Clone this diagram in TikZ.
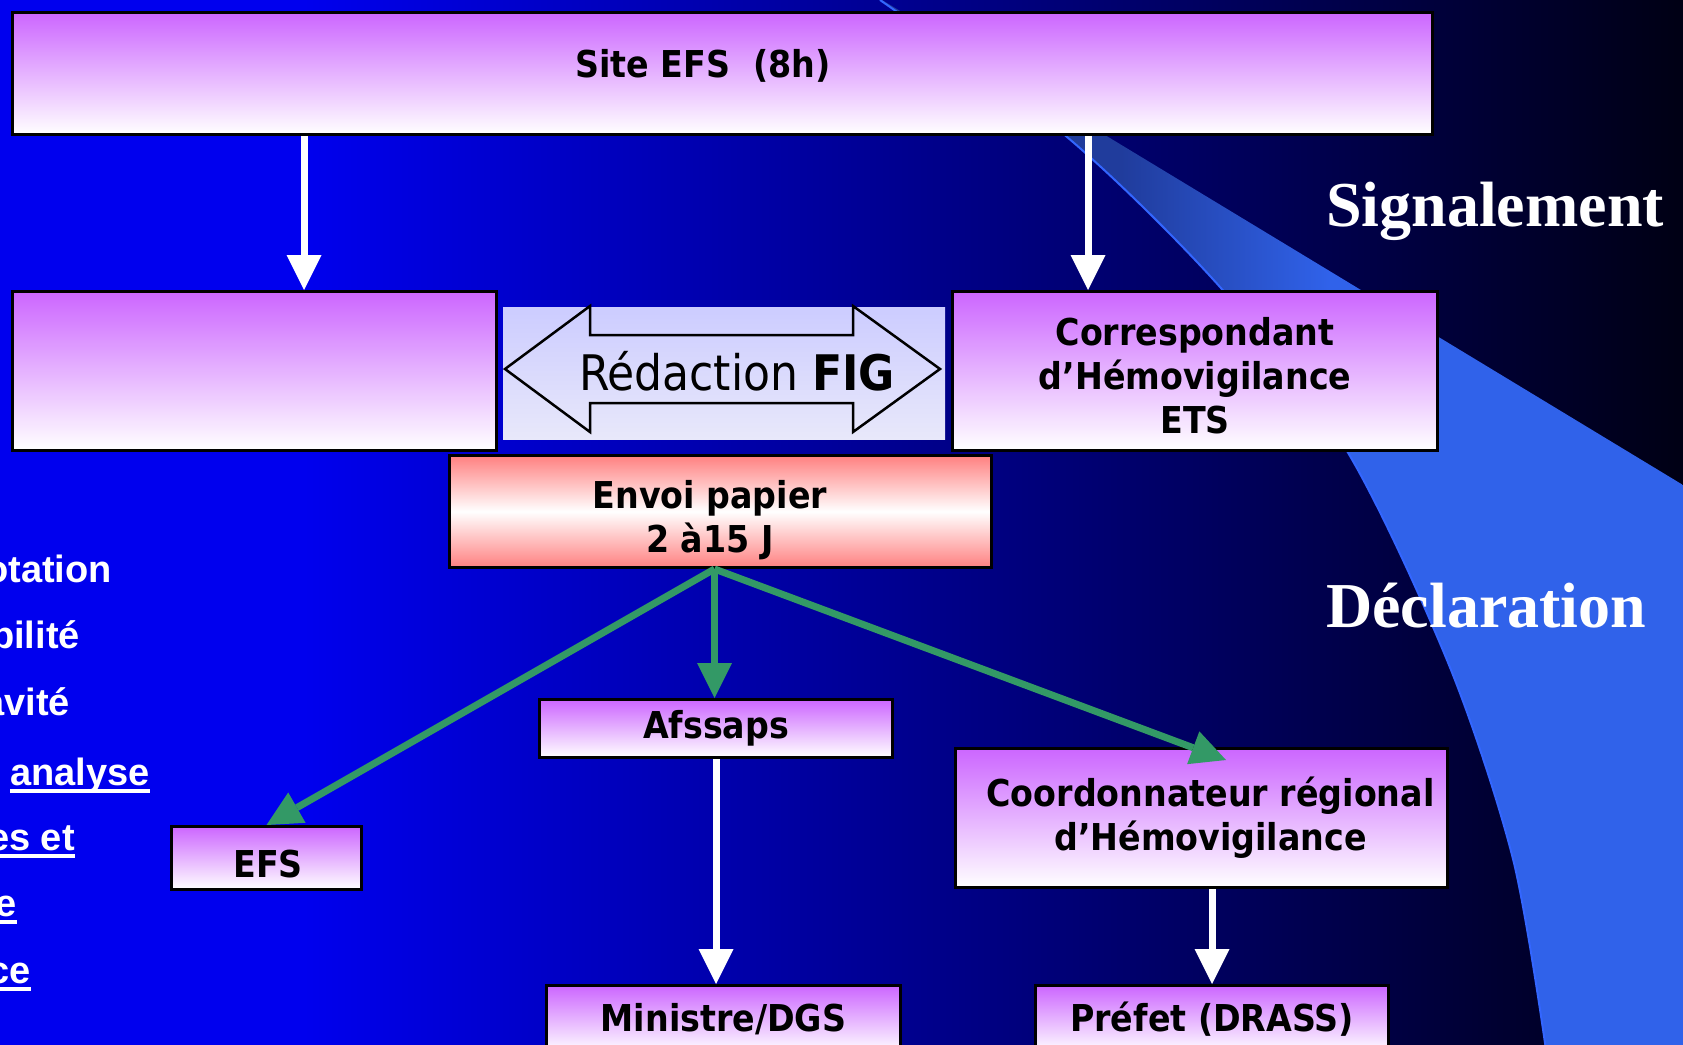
\documentclass[tikz,border=0pt]{standalone}
\usepackage{fontspec}
\setmainfont{DejaVu Sans Condensed}
\newfontfamily\sidefont{Liberation Sans}
\newfontfamily\serifbig{Liberation Serif}
\usetikzlibrary{arrows.meta,calc}

\definecolor{bgleft}{RGB}{0,0,238}
\definecolor{bgright}{RGB}{0,0,20}
\definecolor{swdark}{RGB}{32,60,156}
\definecolor{swbright}{RGB}{48,98,234}
\definecolor{swlinecol}{RGB}{51,102,255}
\definecolor{violettop}{RGB}{204,102,255}
\definecolor{salmon}{RGB}{255,128,128}
\definecolor{paneltop}{RGB}{204,204,255}
\definecolor{panelbottom}{RGB}{232,232,250}
\definecolor{arrowgreen}{RGB}{51,153,102}

\pgfdeclarehorizontalshading{bgshade}{100bp}{color(0bp)=(bgleft); color(34bp)=(bgleft); color(75bp)=(bgright); color(100bp)=(bgright)}
\pgfdeclarehorizontalshading{swooshshade}{100bp}{color(0bp)=(swdark); color(40bp)=(swdark); color(53bp)=(swbright); color(100bp)=(swbright)}

\begin{document}
\begin{tikzpicture}[x=1pt,y=-1pt,
  boxtext/.style={inner sep=0pt,align=center,font=\fontsize{37}{44}\selectfont\bfseries},
  box/.style={boxtext,draw=black,line width=3pt,top color=violettop,bottom color=white},
  salmonbox/.style={box,top color=salmon,bottom color=salmon,middle color=white},
  panel/.style={top color=paneltop,bottom color=panelbottom,inner sep=0pt},
  dblarrow/.style={draw=black,line width=2.5pt,line join=miter},
  wharrow/.style={draw=white,line width=7pt,-{Triangle[width=35pt,length=35pt,line width=0pt]}},
  grarrow/.style={draw=arrowgreen,line width=7pt,-{Triangle[width=35pt,length=35pt,line width=0pt]}},
  sidetext/.style={text=white,inner sep=0pt,font=\sidefont\bfseries\fontsize{38}{44}\selectfont},
  uline/.style={draw=white,line width=4pt},
  bigword/.style={text=white,inner sep=0pt,font=\serifbig\bfseries\fontsize{64}{70}\selectfont},
  swline/.style={draw=swlinecol,line width=2pt}]
  \useasboundingbox (0,0) rectangle (1683,1044);
  \clip (0,0) rectangle (1683,1044);
  \shade[shading=bgshade] (0,0) rectangle (1683,1044);

  \shade[shading=swooshshade] plot[smooth] coordinates {(880,0) (1067,137) (1220,287) (1347,451) (1449,665) (1513,859) (1546,1050)}
    -- (1683,1050) -- (1683,485) -- (882,0) -- cycle;
  \draw[swline] plot[smooth] coordinates {(880,0) (1067,137) (1220,287) (1347,451) (1449,665) (1513,859) (1546,1050)};

  \node[bigword,anchor=base west] at (1326,226) (signal) {Signalement};
  \node[bigword,anchor=base west] at (1326,627) (decl) {Déclaration};

  \node[box,minimum width=1420pt,minimum height=122pt] at (722.5,73.5) (site) {};
  \node[boxtext] at (703,66) (sitetxt) {Site EFS~~(8h)};
  \node[box,minimum width=484pt,minimum height=159pt] at (254.5,371) (leftbox) {};

  \node[panel,minimum width=442pt,minimum height=132pt] at (724,373) (redpanel) {};
  \draw[dblarrow] (505,369) -- (590,306) -- (590,335) -- (853,335) -- (853,306) -- (940,369)
    -- (853,432) -- (853,403) -- (590,403) -- (590,432) -- cycle;
  \node[inner sep=0pt,anchor=base,font=\fontsize{49}{54}\selectfont] at (737,390) (redtext) {Rédaction \textbf{FIG}};

  \node[box,minimum width=485pt,minimum height=159pt] at (1195,371) (corr) {};
  \node[boxtext] at (1195,376) (corrtxt) {Correspondant\\d’Hémovigilance\\ETS};
  \node[salmonbox,minimum width=542pt,minimum height=112pt] at (720.5,511.5) (envoi) {};
  \node[boxtext] at (710,520) (envoitxt) {Envoi papier\\2 à15 J};
  \node[box,minimum width=353pt,minimum height=58pt] at (716,728.5) (afssaps) {Afssaps};
  \node[box,minimum width=190pt,minimum height=63pt] at (266.5,858) (efs) {};
  \node[boxtext] at (268,864.5) (efstxt) {EFS};
  \node[box,minimum width=492pt,minimum height=139pt] at (1201.5,818) (coord) {};
  \node[boxtext] at (1210.5,818) (coordtxt) {Coordonnateur régional\\d’Hémovigilance};
  \node[box,minimum width=354pt,minimum height=67pt] at (723.5,1019) (ministre) {Ministre/DGS};
  \node[box,minimum width=353pt,minimum height=67pt] at (1212,1019) (prefet) {Préfet (DRASS)};

  \coordinate (s1) at (304,0);
  \coordinate (s2) at (1088,0);
  \draw[wharrow] (s1 |- site.south) -- (s1 |- leftbox.north);
  \draw[wharrow] (s2 |- site.south) -- (s2 |- corr.north);
  \draw[wharrow] (afssaps.south) -- (afssaps.south |- ministre.north);
  \draw[wharrow] (prefet.north |- coord.south) -- (prefet.north);

  \coordinate (g0) at ($(envoi.south)+(-6,0)$);
  \coordinate (gc) at (1226,760);
  \draw[grarrow] (g0) -- (efs.north);
  \draw[grarrow] (g0) -- (g0 |- afssaps.north);
  \draw[grarrow] (g0) -- (gc);

  \node[sidetext,anchor=base east] at (112,582) (t1) {otation};
  \node[sidetext,anchor=base east] at (80,648) (t2) {bilité};
  \node[sidetext,anchor=base east] at (70,715) (t3) {avité};
  \node[sidetext,anchor=base west] at (10,785) (t4) {analyse};
  \node[sidetext,anchor=base east] at (75,850) (t5) {es et};
  \node[sidetext,anchor=base east] at (17,916) (t6) {e};
  \node[sidetext,anchor=base east] at (31,983) (t7) {ce};
  \draw[uline] ([yshift=-6pt]t4.base west) -- ([yshift=-6pt]t4.base east);
  \draw[uline] ([yshift=-6pt]t5.base west) -- ([yshift=-6pt]t5.base east);
  \draw[uline] ([yshift=-6pt]t6.base west) -- ([yshift=-6pt]t6.base east);
  \draw[uline] ([yshift=-6pt]t7.base west) -- ([yshift=-6pt]t7.base east);
\end{tikzpicture}
\end{document}
